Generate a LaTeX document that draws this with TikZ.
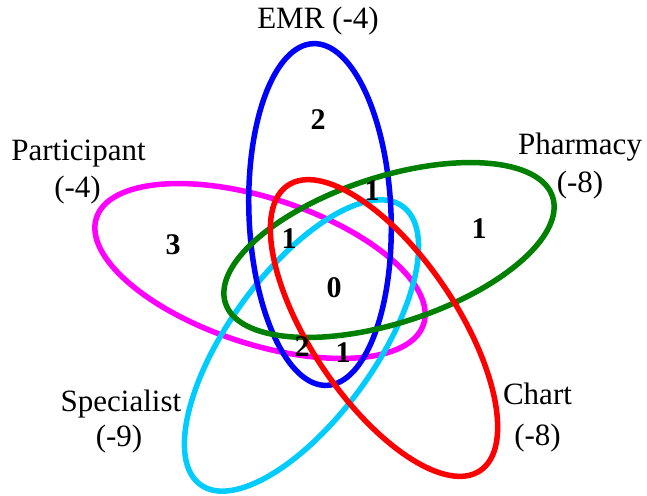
\documentclass[tikz,border=0pt]{standalone}
\usepackage{fontspec}
\setmainfont{Liberation Serif}
\definecolor{vblue}{RGB}{0,0,255}
\definecolor{vmag}{RGB}{255,0,255}
\definecolor{vgreen}{RGB}{0,128,0}
\definecolor{vcyan}{RGB}{0,204,255}
\definecolor{vred}{RGB}{255,0,0}
\begin{document}
\begin{tikzpicture}[x=1pt,y=-1pt,
  setline/.style={line width=5.5pt},
  lab/.style={font=\fontsize{31}{36}\selectfont, inner sep=0pt, anchor=base},
  num/.style={font=\fontsize{30}{36}\selectfont\bfseries, inner sep=0pt}]
\useasboundingbox (0,0) rectangle (647,495);
% sets
\draw[setline, vmag, rotate around={-18:(260,271)}] (260,271) ellipse [x radius=172pt, y radius=73pt];
\draw[setline, vcyan, rotate around={54:(301.5,345.5)}] (301.5,345.5) ellipse [x radius=172pt, y radius=73pt];
\draw[setline, vblue, rotate around={2.3:(320,214.5)}] (320,214.5) ellipse [x radius=71pt, y radius=171pt];
\draw[setline, vgreen, rotate around={18:(389,250)}] (389,250) ellipse [x radius=172pt, y radius=73pt];
\draw[setline, vred, rotate around={-56:(384,328)}] (384,328) ellipse [x radius=172pt, y radius=73pt];
% labels
\node[lab] (emr) at (318,29) {EMR (-4)};
\node[lab] (part) at (78.5,160) {Participant};
\node[lab] (partn) at (77.5,197) {(-4)};
\node[lab] (pharm) at (580,154.5) {Pharmacy};
\node[lab] (pharmn) at (580,192) {(-8)};
\node[lab] (spec) at (121,411.5) {Specialist};
\node[lab] (specn) at (119,446) {(-9)};
\node[lab] (chart) at (537.5,404) {Chart};
\node[lab] (chartn) at (537.5,445) {(-8)};
% counts
\node[num] (n1) at (318,120) {2};
\node[num] (n2) at (173,245) {3};
\node[num] (n3) at (479,229) {1};
\node[num] (n4) at (372,191) {1};
\node[num] (n5) at (289,239) {1};
\node[num] (n6) at (334,288) {0};
\node[num] (n7) at (302,347) {2};
\node[num] (n8) at (343,353) {1};
\end{tikzpicture}
\end{document}
